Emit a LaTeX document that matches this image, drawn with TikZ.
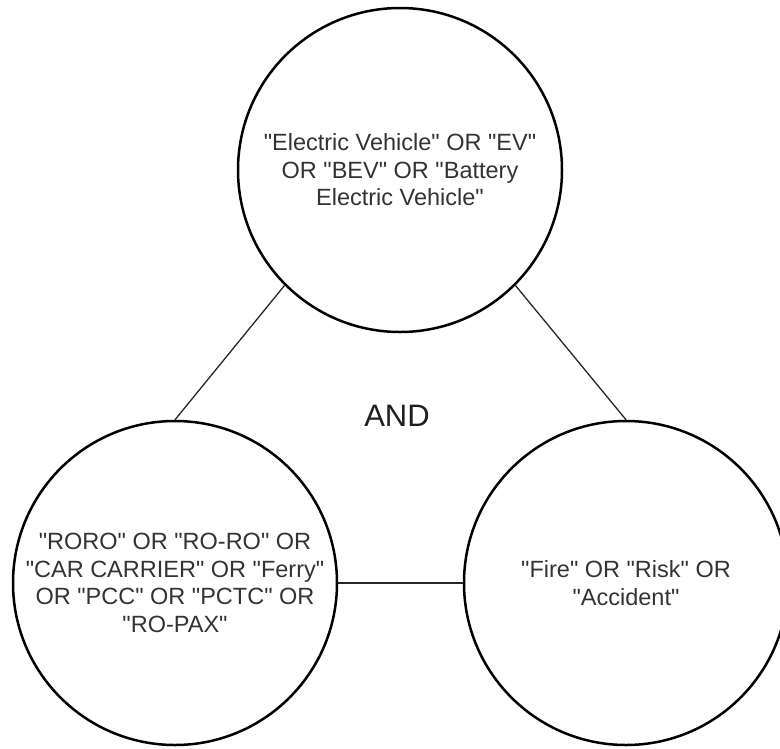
\documentclass[tikz,border=0pt]{standalone}
\usepackage{fontspec}
\setmainfont{Liberation Sans}[Ligatures=TeXOff]
\definecolor{txt}{HTML}{333333}
\tikzset{
  bubble/.style={circle, draw=black, line width=2.5pt, minimum size=324pt, inner sep=0pt,
    align=center, text=txt, font=\fontsize{23.5}{27.5}\selectfont},
  link/.style={draw=black!85, line width=1.3pt},
  andlabel/.style={font=\fontsize{31}{36}\selectfont, text=black!88, inner sep=0pt}
}
\begin{document}
\begin{tikzpicture}[x=1pt,y=-1pt]
\useasboundingbox (0,0) rectangle (780,748);
\node[bubble] (ev) at (400,170) {"Electric Vehicle" OR "EV"\\ OR "BEV" OR "Battery\\ Electric Vehicle"};
\node[bubble] (ship) at (175,583) {"RORO" OR "RO-RO" OR\\ "CAR CARRIER" OR "Ferry"\\ OR "PCC" OR "PCTC" OR\\ "RO-PAX"};
\node[bubble] (risk) at (626,583) {"Fire" OR "Risk" OR\\ "Accident"};
\node[andlabel] (and) at (397,416) {AND};
\draw[link] (ev.225) -- (ship.north);
\draw[link] (ev.-45) -- (risk.north);
\draw[link] (ship.east) -- (risk.west);
\end{tikzpicture}
\end{document}
